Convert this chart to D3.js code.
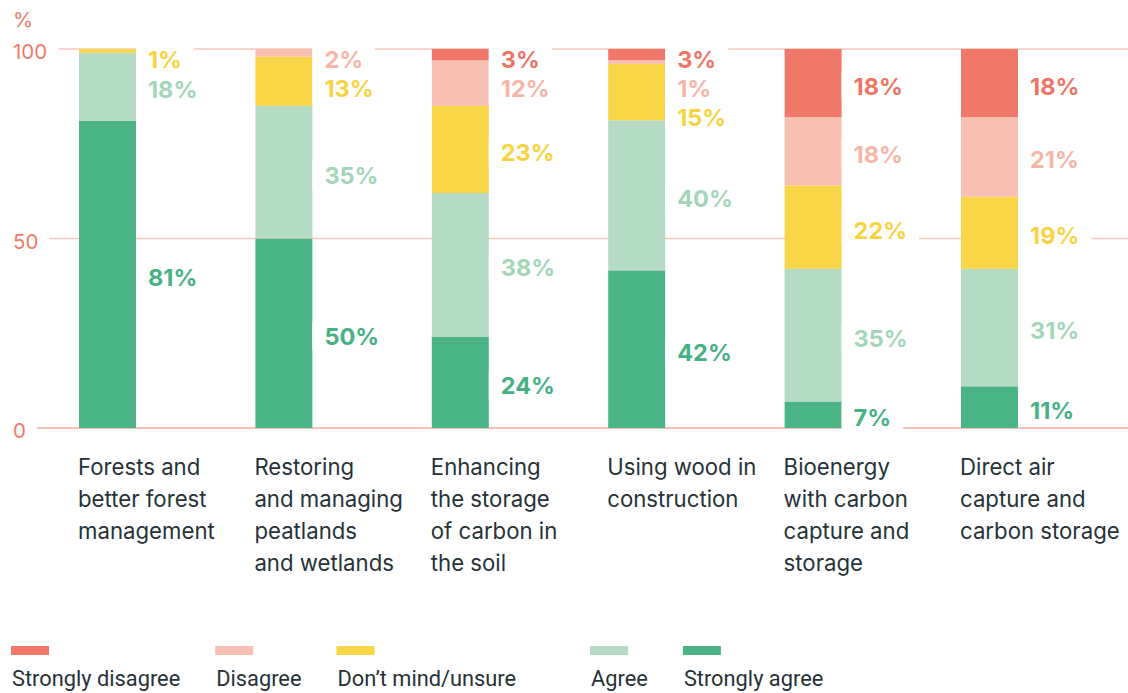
<!DOCTYPE html>
<html>
<head>
<meta charset="utf-8">
<script src="https://cdn.jsdelivr.net/npm/d3@7"></script>
<style>
  html, body { margin: 0; padding: 0; background: #fff; }
  svg { display: block; }
</style>
</head>
<body>
<svg id="chart"></svg>
<script>
// categories (one per bar), text broken into lines as in the picture
const categories = [
  "Forests and better forest management",
  "Restoring and managing peatlands and wetlands",
  "Enhancing the storage of carbon in the soil",
  "Using wood in construction",
  "Bioenergy with carbon capture and storage",
  "Direct air capture and carbon storage"
];
const categoryLines = [
  ["Forests and", "better forest", "management"],
  ["Restoring", "and managing", "peatlands", "and wetlands"],
  ["Enhancing", "the storage", "of carbon in", "the soil"],
  ["Using wood in", "construction"],
  ["Bioenergy", "with carbon", "capture and", "storage"],
  ["Direct air", "capture and", "carbon storage"]
];

// series, bottom to top
const seriesNames = ["Strongly agree", "Agree", "Don’t mind/unsure", "Disagree", "Strongly disagree"];
const stronglyAgree    = [81, 50, 24, 42, 7, 11];
const agree            = [18, 35, 38, 40, 35, 31];
const dontMind         = [1, 13, 23, 15, 22, 19];
const disagree         = [0, 2, 12, 1, 18, 21];
const stronglyDisagree = [0, 0, 3, 3, 18, 18];
const yTicks = [0, 50, 100];

// legend order (left to right)
const legendOrder = ["Strongly disagree", "Disagree", "Don’t mind/unsure", "Agree", "Strongly agree"];

const colors = {
  "Strongly disagree": "#ef7869",
  "Disagree": "#f8c0b3",
  "Don’t mind/unsure": "#f9d548",
  "Agree": "#b5dbc5",
  "Strongly agree": "#4ab486"
};
const labelColors = {
  "Strongly disagree": "#ee7464",
  "Disagree": "#f6b5a6",
  "Don’t mind/unsure": "#f8d33f",
  "Agree": "#a3d6b8",
  "Strongly agree": "#46b183"
};

const W = 1128, H = 693;
const svg = d3.select("#chart").attr("width", W).attr("height", H);

const seriesValues = [stronglyAgree, agree, dontMind, disagree, stronglyDisagree];
const rows = categories.map((c, i) => {
  const r = { category: c, index: i };
  seriesNames.forEach((s, k) => { r[s] = seriesValues[k][i]; });
  return r;
});

const stacked = d3.stack().keys(seriesNames).offset(d3.stackOffsetExpand)(rows);

const x = d3.scaleBand()
  .domain(categories)
  .range([79, 1018])
  .paddingInner(0.677)
  .paddingOuter(0);

const y = d3.scaleLinear().domain([0, 100]).range([428, 49]);

const tickFont = "Inter, 'Noto Sans', sans-serif";

// y tick labels + gridlines starting after the label
const gGrid = svg.append("g");
const gTicks = svg.append("g");
yTicks.forEach(t => {
  const txt = gTicks.append("text")
    .attr("x", 13)
    .attr("y", y(t) + 3)
    .attr("dy", "0.35em")
    .attr("font-family", tickFont)
    .attr("font-size", 20.5)
    .attr("fill", "#f07a6a")
    .text(t);
  const bb = txt.node().getBBox();
  gGrid.append("line")
    .attr("x1", bb.x + bb.width + 11)
    .attr("x2", W)
    .attr("y1", y(t))
    .attr("y2", y(t))
    .attr("stroke", t === 0 ? "#f5ac9f" : "#f8c7bd")
    .attr("stroke-width", 1.6);
});
svg.append("text")
  .attr("x", 13)
  .attr("y", 20)
  .attr("dy", "0.35em")
  .attr("font-family", tickFont)
  .attr("font-size", 20.5)
  .attr("fill", "#f07a6a")
  .text("%");

// bars
const gBars = svg.append("g");
stacked.forEach(layer => {
  gBars.selectAll(null)
    .data(layer)
    .enter()
    .append("rect")
    .attr("x", d => x(d.data.category))
    .attr("width", x.bandwidth())
    .attr("y", d => y(d[1] * 100))
    .attr("height", d => y(d[0] * 100) - y(d[1] * 100))
    .attr("fill", colors[layer.key]);
});

// value labels, top to bottom, pushed apart where they would collide
const gLabels = svg.append("g");
categories.forEach((c, i) => {
  let prev = y(100) + 11 - 29;
  for (let k = stacked.length - 1; k >= 0; k--) {
    const layer = stacked[k];
    const d = layer[i];
    const v = d.data[layer.key];
    if (!v) continue;
    const center = (y(d[0] * 100) + y(d[1] * 100)) / 2 + 3;
    const ly = Math.max(center, prev + 29);
    prev = ly;
    const lx = x(c) + x.bandwidth() + 12;
    const bg = gLabels.append("rect").attr("fill", "#fff");
    const txt = gLabels.append("text")
      .attr("x", lx)
      .attr("y", ly)
      .attr("dy", "0.36em")
      .attr("font-family", tickFont)
      .attr("font-weight", 700)
      .attr("font-size", 23.5)
      .attr("fill", labelColors[layer.key])
      .text(v + "%");
    const bb = txt.node().getBBox();
    bg.attr("x", x(c) + x.bandwidth())
      .attr("y", bb.y)
      .attr("width", bb.x + bb.width + 12 - (x(c) + x.bandwidth()))
      .attr("height", bb.height);
  }
});

// category labels
const gCats = svg.append("g");
categories.forEach((c, i) => {
  const t = gCats.append("text")
    .attr("font-family", tickFont)
    .attr("font-size", 22.2)
    .attr("fill", "#263238");
  categoryLines[i].forEach((line, j) => {
    t.append("tspan")
      .attr("x", x(c) - 1)
      .attr("y", 475 + j * 32)
      .text(line);
  });
});

// legend (the reference leaves a wider gap before "Agree")
const gLegend = svg.append("g");
let lx = 11;
legendOrder.forEach(name => {
  if (name === "Agree") lx += 39;
  gLegend.append("rect")
    .attr("x", lx)
    .attr("y", 646)
    .attr("width", 38)
    .attr("height", 9)
    .attr("fill", colors[name]);
  const t = gLegend.append("text")
    .attr("x", lx + 1)
    .attr("y", 686)
    .attr("font-family", "Roboto, sans-serif")
    .attr("font-size", 21.8)
    .attr("fill", "#263238")
    .text(name);
  lx += t.node().getComputedTextLength() + 36;
});
</script>
</body>
</html>
